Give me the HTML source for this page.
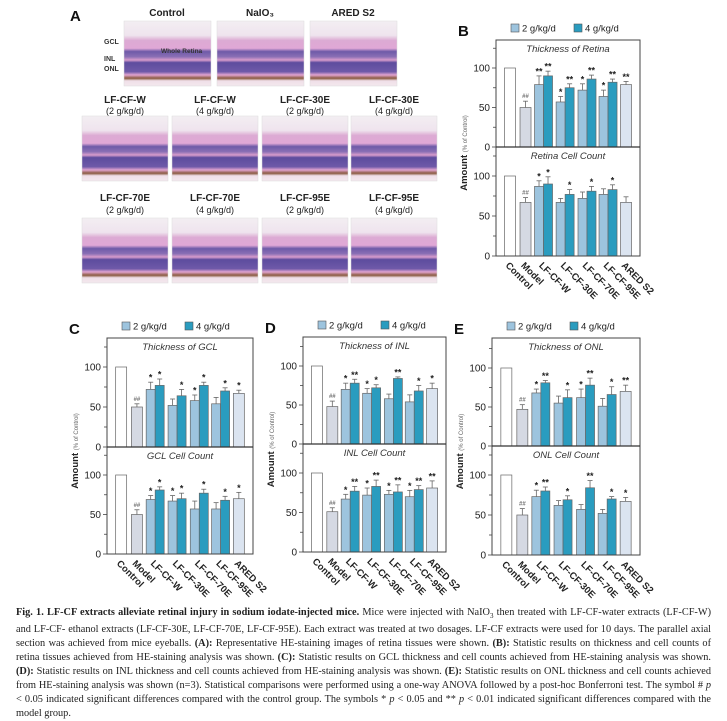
<!DOCTYPE html>
<html><head><meta charset="utf-8"><style>
body{margin:0;background:#fff;width:727px;height:720px;overflow:hidden;position:relative;font-family:"Liberation Sans",sans-serif}
svg{position:absolute;left:0;top:0}
#cap{position:absolute;left:16px;top:606px;width:695px;font-family:"Liberation Serif",serif;font-size:10.3px;line-height:14px;text-align:justify;color:#222}
</style></head><body>
<svg id="fig" width="727" height="720"></svg>
<div id="cap"><b>Fig. 1. LF-CF extracts alleviate retinal injury in sodium iodate-injected mice.</b> Mice were injected with NaIO<sub style="font-size:7px">3</sub> then treated with LF-CF-water extracts (LF-CF-W) and LF-CF- ethanol extracts (LF-CF-30E, LF-CF-70E, LF-CF-95E). Each extract was treated at two dosages. LF-CF extracts were used for 10 days. The parallel axial section was achieved from mice eyeballs. <b>(A):</b> Representative HE-staining images of retina tissues were shown. <b>(B):</b> Statistic results on thickness and cell counts of retina tissues achieved from HE-staining analysis was shown. <b>(C):</b> Statistic results on GCL thickness and cell counts achieved from HE-staining analysis was shown. <b>(D):</b> Statistic results on INL thickness and cell counts achieved from HE-staining analysis was shown. <b>(E):</b> Statistic results on ONL thickness and cell counts achieved from HE-staining analysis was shown (n=3). Statistical comparisons were performed using a one-way ANOVA followed by a post-hoc Bonferroni test. The symbol # <i>p</i> &lt; 0.05 indicated significant differences compared with the control group. The symbols * <i>p</i> &lt; 0.05 and ** <i>p</i> &lt; 0.01 indicated significant differences compared with the model group.</div>
<script>
const categories=["Control","Model","LF-CF-W","LF-CF-30E","LF-CF-70E","LF-CF-95E","ARED S2"];
const barKinds=["ctrl","model","d2","d4","d2","d4","d2","d4","d2","d4","ared"];
const barGroup=[0,1,2,2,3,3,4,4,5,5,6];
const yTicks=[0,50,100];
const retinaThick=[100,50,79,90,57,75,72,86,64,82,79];
const retinaThickErr=[0,8,11,6,7,5,8,5,8,4,4];
const retinaThickSig=["","##","**","**","*","**","*","**","*","**","**"];
const retinaCount=[100,67,87,90,67,77,72,81,77,83,67];
const retinaCountErr=[0,6,7,9,5,6,8,6,7,6,7];
const retinaCountSig=["","##","*","*","","*","","*","","*",""];
const gclThick=[100,50,72,77,52,64,58,77,54,70,67];
const gclThickErr=[0,4,9,8,8,8,7,4,8,4,4];
const gclThickSig=["","##","*","*","","*","*","*","","*","*"];
const gclCount=[100,50,69,81,67,70,57,77,57,68,70];
const gclCountErr=[0,6,5,4,7,7,10,5,8,5,8];
const gclCountSig=["","##","*","*","*","*","","*","","*","*"];
const inlThick=[100,48,70,78,65,72,58,84,54,68,71];
const inlThickErr=[0,7,8,5,6,4,6,2,9,7,7];
const inlThickSig=["","##","*","**","*","*","","**","","*","*"];
const inlCount=[100,51,67,77,72,83,73,76,70,79,81];
const inlCountErr=[0,5,6,6,9,8,5,9,8,5,9];
const inlCountSig=["","##","*","**","*","**","*","**","*","**","**"];
const onlThick=[100,47,68,81,55,62,62,78,51,66,70];
const onlThickErr=[0,6,5,3,9,10,11,9,10,10,8];
const onlThickSig=["","##","*","**","","*","*","**","","*","**"];
const onlCount=[100,50,73,80,62,69,57,84,52,70,67];
const onlCountErr=[0,8,8,5,6,5,6,9,5,3,5];
const onlCountSig=["","##","*","**","","*","","**","","*","*"];

const NS="http://www.w3.org/2000/svg";
const svg=document.getElementById('fig');
function mk(tag,attrs,parent,txt){const e=document.createElementNS(NS,tag);for(const k in attrs)e.setAttribute(k,attrs[k]);if(txt!==undefined)e.textContent=txt;(parent||svg).appendChild(e);return e;}
const fills={ctrl:"#ffffff",model:"#d5d9e3",d2:"#9dc4de",d4:"#2a9cbf",ared:"#dbe4f0"};
const groupFrac=[0.097,0.205,0.33,0.48,0.632,0.778,0.903];

function drawPanel(cfg){
  const g=mk('g',{});
  
  
  const w=cfg.x1-cfg.x0;
  const cx=i=>cfg.x0+w*groupFrac[i];
  const L=mk('text',{x:cfg.x0-38,y:cfg.top-4,'font-size':15,'font-weight':'bold',fill:'#111'},g,cfg.letter);
  
  const lg=mk('g',{},g);
  [["2 g/kg/d",fills.d2,15],["4 g/kg/d",fills.d4,78]].forEach(([t,f,dx])=>{
    const e=mk('g',{},lg);
    mk('rect',{x:cfg.x0+dx,y:cfg.top-16,width:8,height:8,fill:f,stroke:'#555','stroke-width':0.6},e);
    mk('text',{x:cfg.x0+dx+11,y:cfg.top-8.5,'font-size':9.5,fill:'#222'},e,t);
  });
  cfg.subs.forEach((s,si)=>{
    const y0=si==0?cfg.mid:cfg.bot, ytop=si==0?cfg.top:cfg.mid;
    const sc=s.scale;
    const yv=v=>y0-v*sc;
    const sg=mk('g',{},g);
    mk('text',{x:(cfg.x0+cfg.x1)/2,y:ytop+12,'font-size':9.5,'font-style':'italic','text-anchor':'middle',fill:'#333'},sg,s.title);
    for(let v=0;v<=125;v+=25){
      if(yv(v)<ytop+1)continue;
      mk('line',{x1:cfg.x0-(v%50==0?4:3),x2:cfg.x0,y1:yv(v),y2:yv(v),stroke:'#444','stroke-width':0.8},sg);
    }
    yTicks.forEach(v=>{const t=mk('text',{x:cfg.x0-6,y:yv(v)+3.5,'font-size':10,'text-anchor':'end',fill:'#222'},sg,String(v));});
    s.vals.forEach((v,i)=>{
      const k=barKinds[i],c=cx(barGroup[i]);
      let bw=(k=='ctrl'||k=='model'||k=='ared')?11:9;
      let x=(k=='d2')?c-9:(k=='d4')?c:c-5.5;
      const b=mk('rect',{x:x,y:yv(v),width:bw,height:v*sc,fill:fills[k],stroke:'#666','stroke-width':0.7},sg);
      
      const e=s.err[i];const mx=x+bw/2;
      if(e>0){mk('line',{x1:mx,x2:mx,y1:yv(v),y2:yv(v+e),stroke:'#666','stroke-width':0.8},sg);
        mk('line',{x1:mx-2.5,x2:mx+2.5,y1:yv(v+e),y2:yv(v+e),stroke:'#666','stroke-width':0.8},sg);}
      if(s.sig[i]){const isH=s.sig[i][0]=='#';
        mk('text',{x:mx,y:yv(v+e)-(isH?3:1.5),'font-size':isH?6:9,'font-weight':'bold','text-anchor':'middle',fill:isH?'#777':'#222'},sg,s.sig[i]);}
    });
  });
  mk('rect',{x:cfg.x0,y:cfg.top,width:w,height:cfg.bot-cfg.top,fill:'none',stroke:'#444','stroke-width':1},g);
  mk('line',{x1:cfg.x0,x2:cfg.x1,y1:cfg.mid,y2:cfg.mid,stroke:'#333','stroke-width':1.2},g);
  const yt=mk('text',{transform:`translate(${cfg.x0-29},${(cfg.top+cfg.bot)/2+5}) rotate(-90)`,'font-size':9.5,'font-weight':'bold','text-anchor':'middle',fill:'#222'},g);
  
  mk('tspan',{},yt,'Amount ');mk('tspan',{'font-size':6,'font-weight':'normal',fill:'#666'},yt,'(% of Control)');
  categories.forEach((c,i)=>{
    const t=mk('text',{transform:`translate(${cx(i)-5},${cfg.bot+10}) rotate(45)`,'font-size':9.5,'font-weight':'bold',fill:'#222'},g,c);
    
  });
}
drawPanel({name:'panel-b-chart',letter:'B',x0:496,x1:640,top:40,mid:147,bot:256,subs:[
 {id:'retina-thickness',title:'Thickness of Retina',scale:0.79,vals:retinaThick,err:retinaThickErr,sig:retinaThickSig},
 {id:'retina-cell-count',title:'Retina Cell Count',scale:0.80,vals:retinaCount,err:retinaCountErr,sig:retinaCountSig}]});
drawPanel({name:'panel-c-chart',letter:'C',x0:107,x1:253,top:338,mid:447,bot:554,subs:[
 {id:'gcl-thickness',title:'Thickness of GCL',scale:0.80,vals:gclThick,err:gclThickErr,sig:gclThickSig},
 {id:'gcl-cell-count',title:'GCL Cell Count',scale:0.79,vals:gclCount,err:gclCountErr,sig:gclCountSig}]});
drawPanel({name:'panel-d-chart',letter:'D',x0:303,x1:446,top:337,mid:444,bot:552,subs:[
 {id:'inl-thickness',title:'Thickness of INL',scale:0.78,vals:inlThick,err:inlThickErr,sig:inlThickSig},
 {id:'inl-cell-count',title:'INL Cell Count',scale:0.79,vals:inlCount,err:inlCountErr,sig:inlCountSig}]});
drawPanel({name:'panel-e-chart',letter:'E',x0:492,x1:640,top:338,mid:446,bot:555,subs:[
 {id:'onl-thickness',title:'Thickness of ONL',scale:0.78,vals:onlThick,err:onlThickErr,sig:onlThickSig},
 {id:'onl-cell-count',title:'ONL Cell Count',scale:0.80,vals:onlCount,err:onlCountErr,sig:onlCountSig}]});

const defs=mk('defs',{});
const lgd=mk('linearGradient',{id:'tissue',x1:0,y1:0,x2:0,y2:1},defs);
[[0,'#f3eef2'],[0.22,'#efe4ee'],[0.3,'#dcaad3'],[0.42,'#e0a8d6'],[0.47,'#6e5aa8'],[0.55,'#8a6fb5'],[0.6,'#d89ccc'],[0.64,'#5d4c9e'],[0.78,'#6e59a8'],[0.83,'#e2a3cf'],[0.88,'#8a5a40'],[0.92,'#f0dfe8'],[1,'#f3e8ee']].forEach(([o,c])=>mk('stop',{offset:o,'stop-color':c},lgd));
const A=mk('text',{x:70,y:21,'font-size':15,'font-weight':'bold',fill:'#111'},svg,'A');

function img(x,y,w,h,name){const r=mk('rect',{x:x,y:y,width:w,height:h,fill:'url(#tissue)',stroke:'#ddd','stroke-width':0.5});}
function lab(x,y,t,sub){const e=mk('text',{x:x,y:y,'font-size':sub?9:10,'font-weight':sub?'normal':'bold','text-anchor':'middle',fill:'#222'},svg,t);}
[["Control",124],["NaIO₃",217],["ARED S2",310]].forEach(([t,x])=>{lab(x+43,16,t);img(x,21,87,65,'histology-'+t.toLowerCase().replace(/[^a-z0-9]/g,''));});
const row2=[["LF-CF-W","(2 g/kg/d)"],["LF-CF-W","(4 g/kg/d)"],["LF-CF-30E","(2 g/kg/d)"],["LF-CF-30E","(4 g/kg/d)"]];
const row3=[["LF-CF-70E","(2 g/kg/d)"],["LF-CF-70E","(4 g/kg/d)"],["LF-CF-95E","(2 g/kg/d)"],["LF-CF-95E","(4 g/kg/d)"]];
const xs=[82,172,262,351];
row2.forEach((r,i)=>{lab(xs[i]+43,103,r[0]);lab(xs[i]+43,114,r[1],1);img(xs[i],116,86,65,'histology-row2-'+i);});
row3.forEach((r,i)=>{lab(xs[i]+43,201,r[0]);lab(xs[i]+43,213,r[1],1);img(xs[i],218,86,65,'histology-row3-'+i);});
[["GCL",44],["INL",61],["ONL",71]].forEach(([t,y])=>mk('text',{x:104,y:y,'font-size':7,'font-weight':'bold',fill:'#333'},svg,t));
mk('text',{x:161,y:53,'font-size':6.5,'font-weight':'bold',fill:'#333'},svg,'Whole Retina');
</script>
</body></html>
